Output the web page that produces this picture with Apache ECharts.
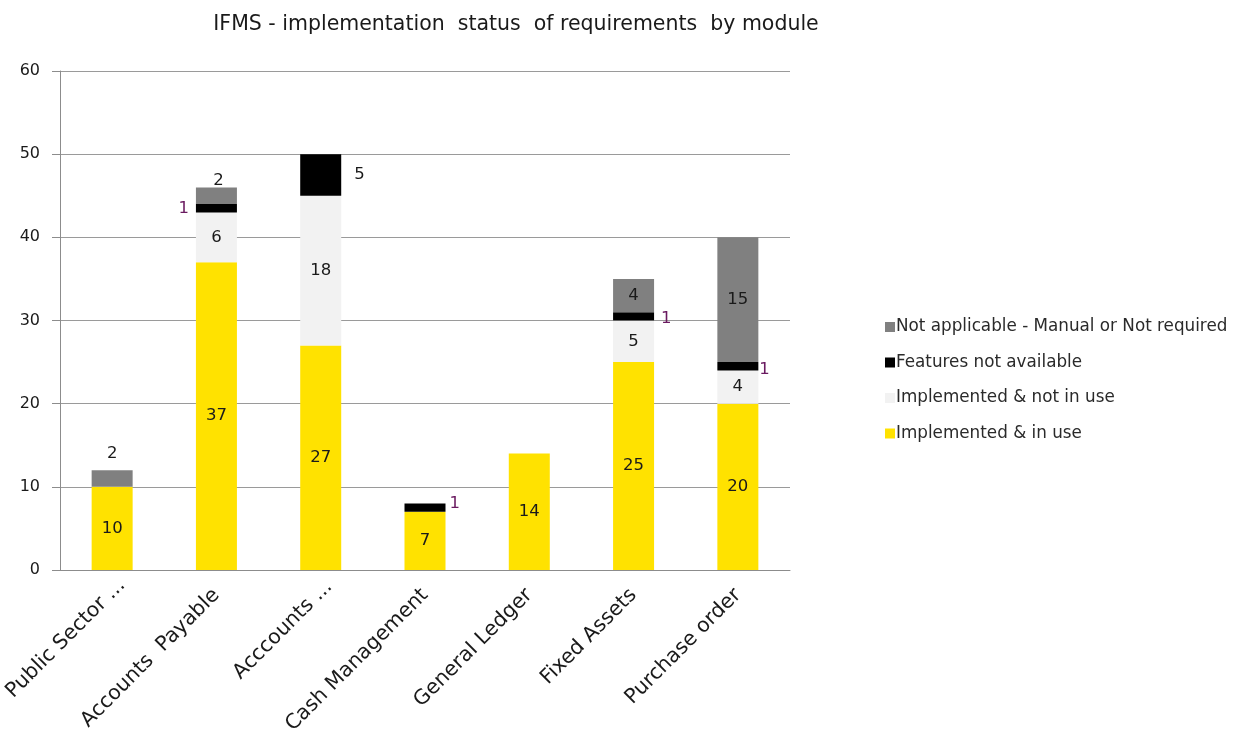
<!DOCTYPE html>
<html>
<head>
<meta charset="utf-8">
<script src="https://cdn.jsdelivr.net/npm/echarts@6/dist/echarts.min.js"></script>
<style>html,body{margin:0;padding:0;background:#fff}#c{width:1240px;height:731px}</style>
</head>
<body>
<div id="c"></div>
<script>
const categories = ['Public Sector ...', 'Accounts  Payable', 'Acccounts ...', 'Cash Management', 'General Ledger', 'Fixed Assets', 'Purchase order'];
const inUse = [10, 37, 27, 7, 14, 25, 20];
const notInUse = [0, 6, 18, 0, 0, 5, 4];
const notAvailable = [0, 1, 5, 1, 0, 1, 1];
const notApplicable = [2, 2, 0, 0, 0, 4, 15];
const seriesNames = ['Implemented & in use', 'Implemented & not in use', 'Features not available', 'Not applicable - Manual or Not required'];
const yMin = 0, yMax = 60, yStep = 10;

const FONT = 'DejaVu Sans';
const colors = ['#FFE200', '#F2F2F2', '#000000', '#808080'];
const purple = '#6a1a60';

// label placement per series/category (style only)
const place = {
  2: {
    1: {position: 'left', distance: 7, color: purple},
    2: {position: 'right', distance: 13},
    3: {position: 'right', distance: 4, offset: [0, -4], color: purple},
    5: {position: 'right', distance: 7, offset: [0, 2], color: purple},
    6: {position: 'right', distance: 1, offset: [0, 3], color: purple}
  },
  3: {
    0: {position: 'top', distance: 8},
    1: {position: 'inside', offset: [2, -15]}
  }
};
// truncated category labels sit slightly further along their baseline
const catShift = {0: -14, 2: -12};

const allValues = [inUse, notInUse, notAvailable, notApplicable];

const series = allValues.map((vals, si) => ({
  name: seriesNames[si],
  type: 'bar',
  stack: 'total',
  barWidth: 41,
  itemStyle: {color: colors[si]},
  label: {show: true, position: 'inside', color: '#1a1a1a', fontFamily: FONT, fontSize: 16.5},
  data: vals.map((v, ci) => {
    const p = (place[si] && place[si][ci]) || {};
    return {
      value: v,
      label: Object.assign({show: v !== 0}, p)
    };
  })
}));

const chart = echarts.init(document.getElementById('c'));
chart.setOption({
  animation: false,
  title: {
    text: 'IFMS - implementation  status  of requirements  by module',
    left: 511, top: 9, textAlign: 'center',
    textStyle: {fontFamily: FONT, fontSize: 20.5, fontWeight: 'normal', color: '#1a1a1a'}
  },
  grid: {left: 60, right: 450, top: 71, bottom: 161, containLabel: false, outerBoundsMode: 'none'},
  legend: {
    orient: 'vertical',
    left: 880, top: 313,
    itemWidth: 10, itemHeight: 10,
    itemGap: 17.5,
    icon: 'rect',
    data: [seriesNames[3], seriesNames[2], seriesNames[1], seriesNames[0]],
    textStyle: {fontFamily: FONT, fontSize: 16.8, color: '#2a2a2a', lineHeight: 18, padding: [0, 0, 0, -4]}
  },
  xAxis: {
    type: 'category',
    data: categories.map((c, i) => catShift[i] !== undefined
      ? {value: c, textStyle: {padding: [0, catShift[i], 0, 0]}}
      : c),
    axisLine: {lineStyle: {color: '#8c8c8c'}},
    axisTick: {length: 7, lineStyle: {color: '#8c8c8c'}},
    axisLabel: {rotate: 45, fontFamily: FONT, fontSize: 20.5, color: '#1a1a1a', margin: 22}
  },
  yAxis: {
    type: 'value',
    min: yMin, max: yMax, interval: yStep,
    axisLine: {show: true, lineStyle: {color: '#8c8c8c'}},
    axisTick: {show: true, length: 8, lineStyle: {color: '#8c8c8c'}},
    splitLine: {lineStyle: {color: '#9a9a9a'}},
    axisLabel: {fontFamily: FONT, fontSize: 16, color: '#1a1a1a', margin: 20}
  },
  series: series
});
</script>
</body>
</html>
